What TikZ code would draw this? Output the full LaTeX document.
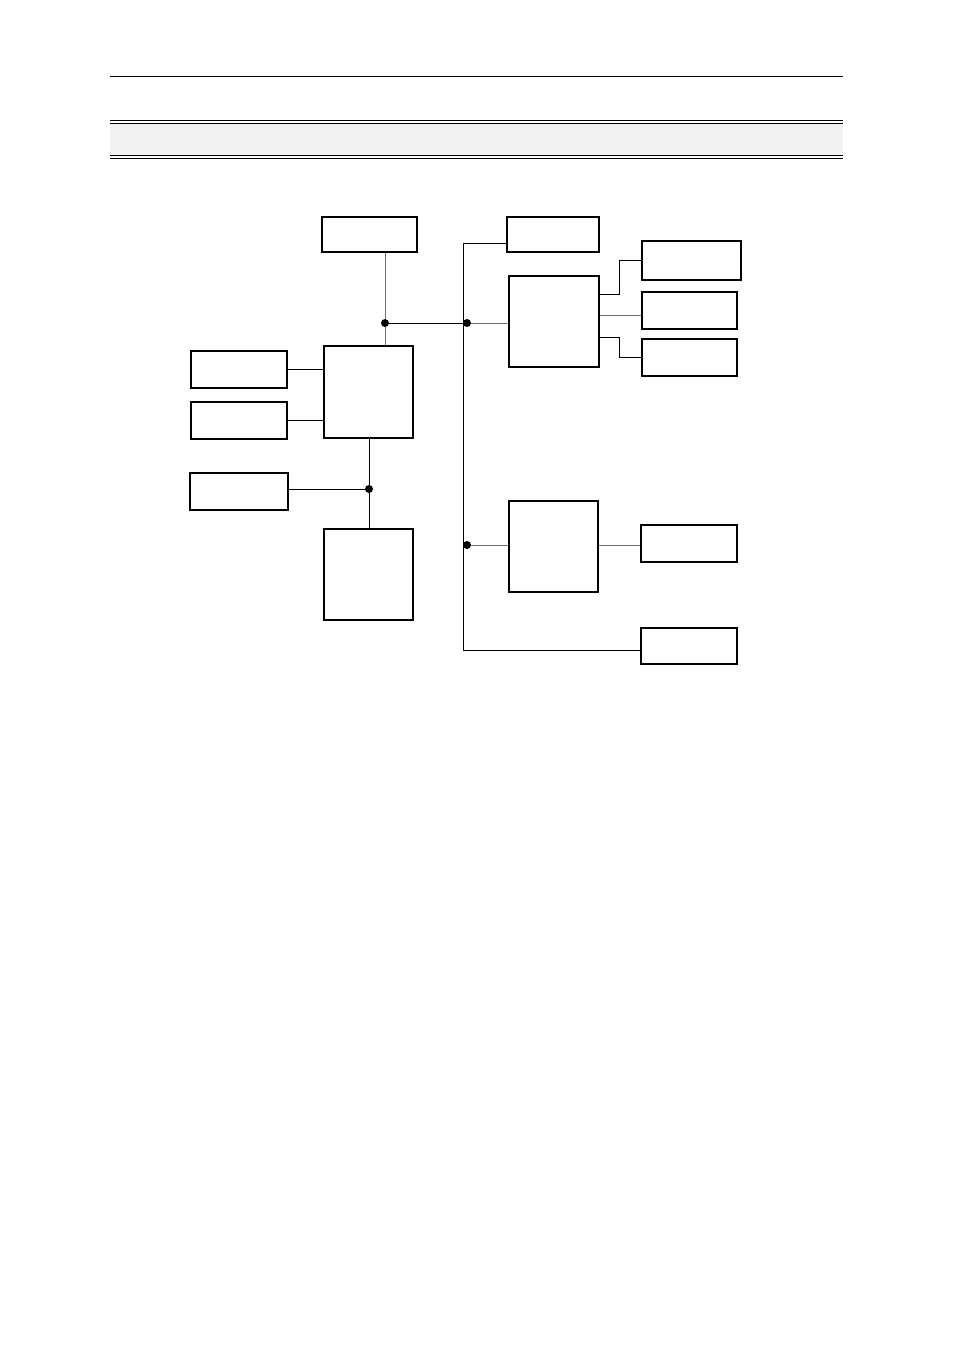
\documentclass[tikz,border=0pt]{standalone}
\usetikzlibrary{positioning, calc}
\definecolor{bandgray}{HTML}{F2F2F2}
\definecolor{wiregray}{HTML}{6E6E6E}

\begin{document}
\begin{tikzpicture}[x=1pt, y=-1pt,
    blk/.style 2 args={draw, line width=2.2pt, inner sep=0pt, minimum width=#1, minimum height=#2},
    wire/.style={line width=0.9pt},
    wireg/.style={wire, wiregray},
    dot/.style={circle, fill, inner sep=0pt, minimum size=8pt}
]
\useasboundingbox (0,0) rectangle (954,1351);

% Page rule and header band
\draw[line width=1pt] (110,77) -- (843,77);
\fill[bandgray] (110,123.5) rectangle (843,155.5);
\draw[line width=1pt] (110,120.5) -- (843,120.5) (110,123.5) -- (843,123.5);
\draw[line width=1pt] (110,155.5) -- (843,155.5) (110,158.5) -- (843,158.5);

% Left group of blocks
\node[blk={95pt}{35pt}] (upper) at (369.5,234.5) {};
\node[blk={89pt}{92pt}] (core) at (368.5,392) {};
\node[blk={96pt}{37pt}] (left-a) at (239,369.5) {};
\node[blk={96pt}{37pt}] (left-b) at (239,420.5) {};
\node[blk={98pt}{37pt}] (left-c) at (239,491.5) {};
\node[blk={89pt}{91pt}] (lower) at (368.5,574.5) {};

% Right group of blocks
\node[blk={92pt}{35pt}] (bus-top) at (553,234.5) {};
\node[blk={90pt}{91pt}] (unit-a) at (554,321.5) {};
\node[blk={99pt}{39pt}] (out-a1) at (691.5,260.5) {};
\node[blk={95pt}{37pt}] (out-a2) at (689.5,310.5) {};
\node[blk={95pt}{37pt}] (out-a3) at (689.5,357.5) {};
\node[blk={89pt}{91pt}] (unit-b) at (553.5,546.5) {};
\node[blk={96pt}{37pt}] (out-b) at (689,543.5) {};
\node[blk={96pt}{36pt}] (bus-end) at (689,646) {};

% Junction points
\node[dot] (j-top) at (385,323) {};
\node[dot] (j-bus) at (467,323) {};
\node[dot] (j-low) at (369,489) {};
\node[dot] (j-bus2) at (467,545) {};
\coordinate (bus-t) at (463.5,243);
\coordinate (bus-b) at (463.5,650);

% Connectors around the core block
\draw[wireg] (upper.south -| j-top) -- (j-top) -- (core.north -| j-top);
\draw[wire] (j-top) -- (j-bus);
\draw[wire] (left-a.east) -- (left-a.east -| core.west);
\draw[wire] (left-b.east) -- (left-b.east -| core.west);
\draw[wire] (core.south -| j-low) -- (j-low) -- (lower.north -| j-low);
\draw[wire] (j-low -| left-c.east) -- (j-low);

% Bus line on the right
\draw[wire] (bus-top.west |- bus-t) -- (bus-t) -- (bus-b) -- (bus-end.west |- bus-b);
\draw[wireg] (j-bus) -- (j-bus -| unit-a.west);
\draw[wireg] (j-bus2) -- (j-bus2 -| unit-b.west);

% Outputs of the two units
\draw[wire] (unit-a.north east) ++(0,20) -- ++(19,0) |- (out-a1.west);
\draw[wireg] (unit-a.east) ++(0,-6) -- (out-a2.west |- 0,315.5);
\draw[wire] (unit-a.south east) ++(0,-31) -- ++(19,0) |- (out-a3.west);
\draw[wireg] (unit-b.east) ++(0,-1.5) -- (out-b.west |- 0,545);

\end{tikzpicture}
\end{document}
